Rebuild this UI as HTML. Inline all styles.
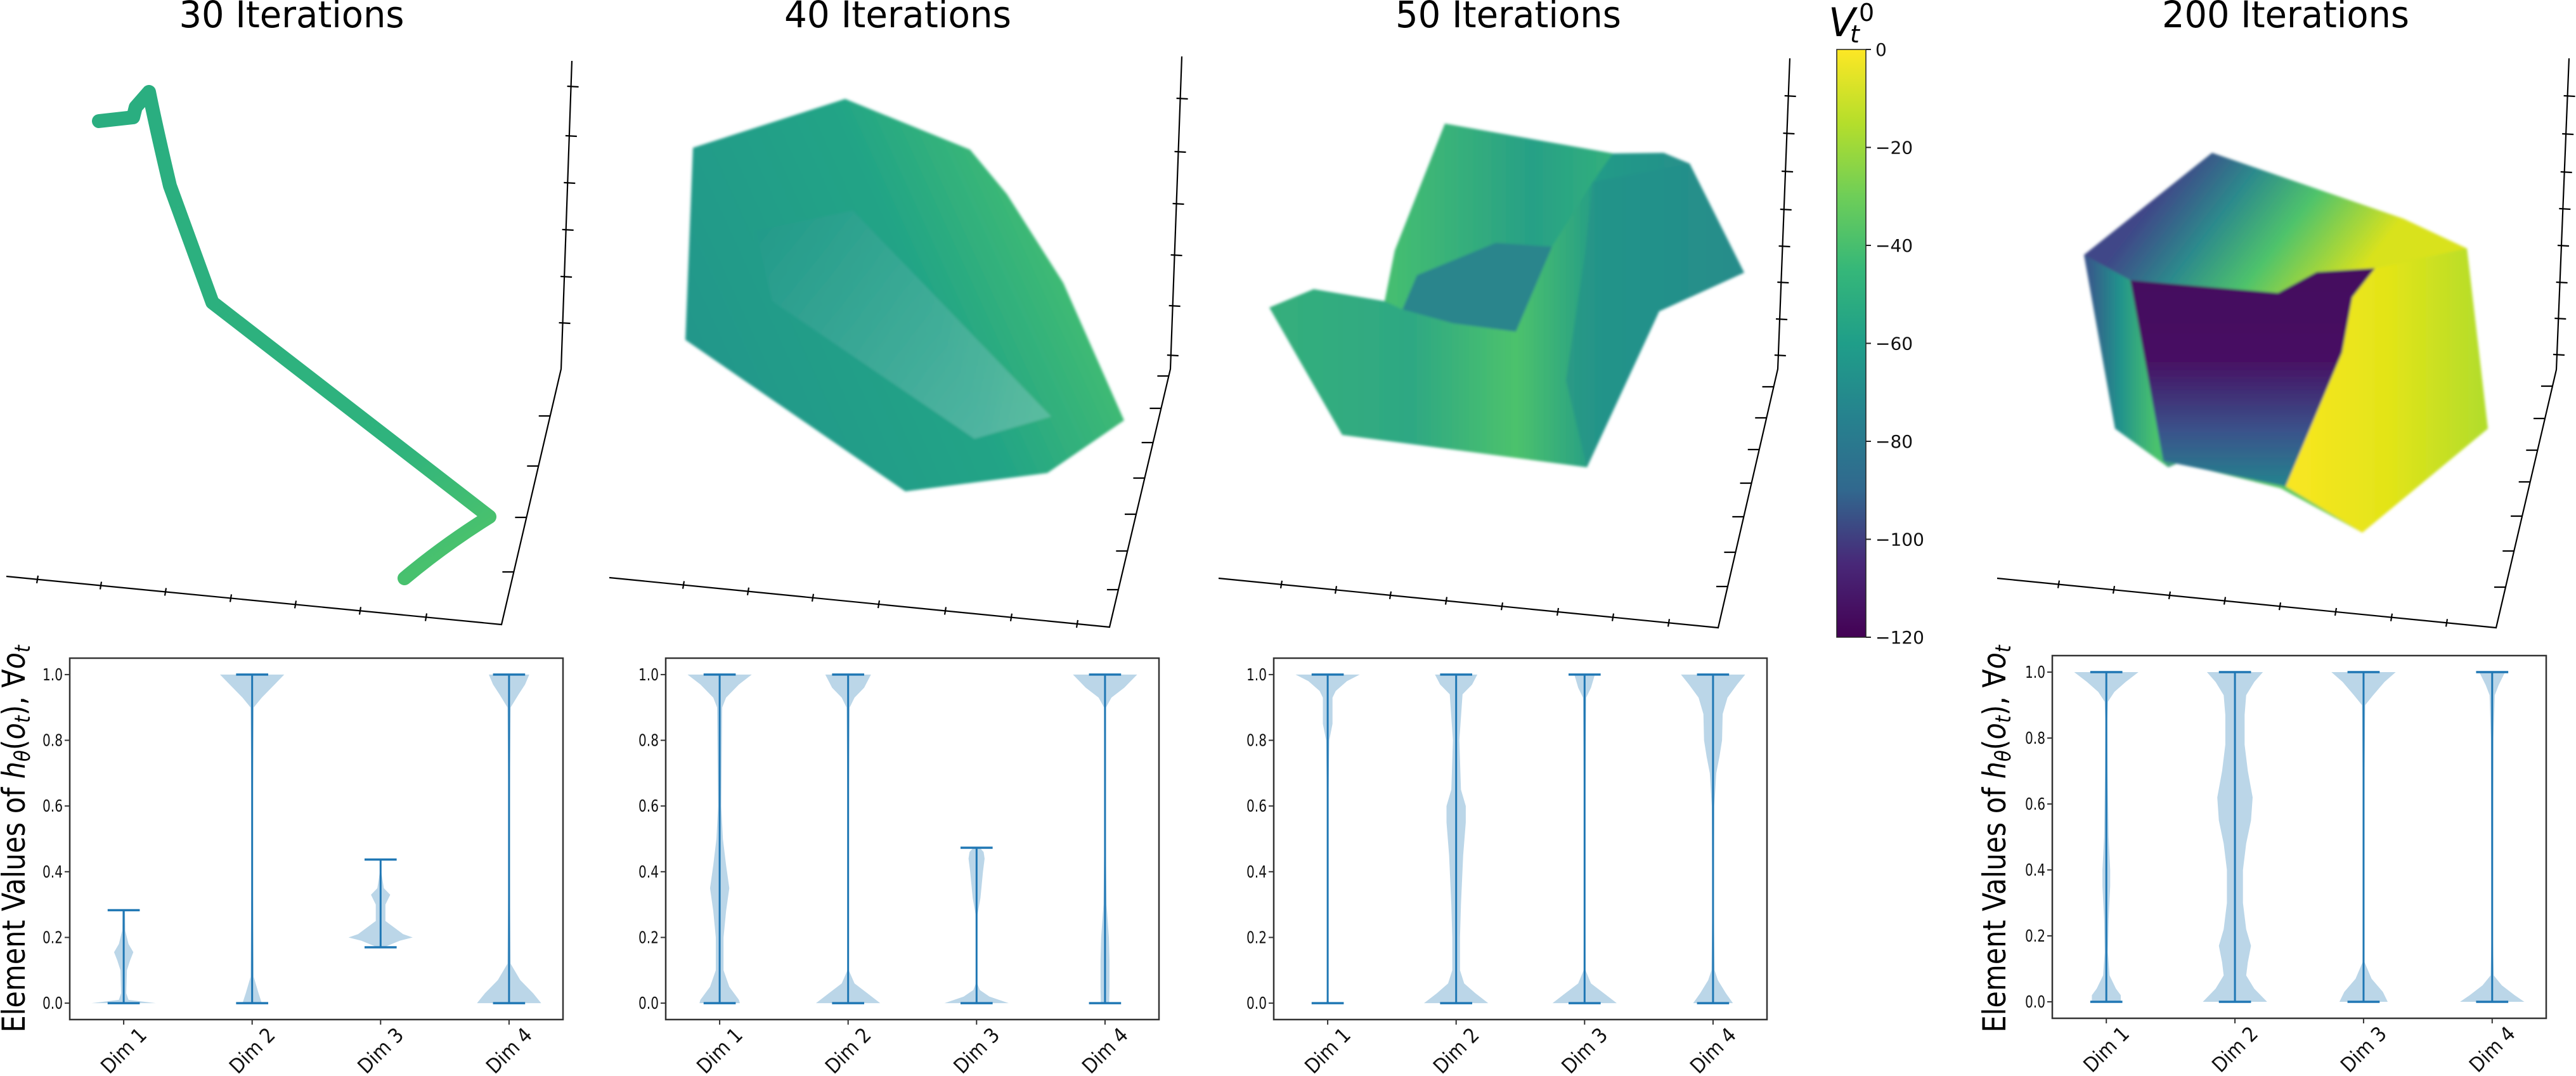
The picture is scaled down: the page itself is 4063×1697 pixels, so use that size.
<!DOCTYPE html>
<html><head><meta charset="utf-8"><style>
html,body{margin:0;padding:0;background:#fff;}
svg{display:block;}
text{font-family:"DejaVu Sans","Liberation Sans",sans-serif;}
</style></head><body>
<svg id="fig" width="4063" height="1697" viewBox="0 0 4063 1697" xmlns="http://www.w3.org/2000/svg">
<defs>
  <filter id="soft" x="-5%" y="-5%" width="110%" height="110%"><feGaussianBlur stdDeviation="2"/></filter>
  <linearGradient id="cbGrad" x1="0" y1="0" x2="0" y2="1">
    <stop offset="0" stop-color="#fde725"/><stop offset="0.125" stop-color="#b5de2b"/>
    <stop offset="0.25" stop-color="#6ece58"/><stop offset="0.375" stop-color="#35b779"/>
    <stop offset="0.5" stop-color="#1f9e89"/><stop offset="0.625" stop-color="#26828e"/>
    <stop offset="0.75" stop-color="#31688e"/><stop offset="0.875" stop-color="#482878"/>
    <stop offset="1" stop-color="#440154"/>
  </linearGradient>
  <linearGradient id="trajGrad" gradientUnits="userSpaceOnUse" x1="156" y1="191" x2="638" y2="912">
    <stop offset="0" stop-color="#2aae80"/><stop offset="0.8" stop-color="#2fb37d"/><stop offset="1" stop-color="#48c16e"/>
  </linearGradient>
  <linearGradient id="p2Grad" gradientUnits="userSpaceOnUse" x1="1090" y1="600" x2="1680" y2="330">
    <stop offset="0" stop-color="#20968b"/><stop offset="0.6" stop-color="#22a486"/><stop offset="1" stop-color="#45bf70"/>
  </linearGradient>
  <linearGradient id="p2Inner" gradientUnits="userSpaceOnUse" x1="1200" y1="360" x2="1600" y2="690">
    <stop offset="0" stop-color="#25998b"/><stop offset="1" stop-color="#7cc6ba"/>
  </linearGradient>
  <linearGradient id="p3Grad" gradientUnits="userSpaceOnUse" x1="2002" y1="0" x2="2751" y2="0">
    <stop offset="0" stop-color="#35af7c"/><stop offset="0.3" stop-color="#2ea883"/>
    <stop offset="0.52" stop-color="#4cc26c"/><stop offset="0.7" stop-color="#229a88"/>
    <stop offset="1" stop-color="#28898c"/>
  </linearGradient>
  <linearGradient id="p3Top" gradientUnits="userSpaceOnUse" x1="2200" y1="300" x2="2560" y2="300">
    <stop offset="0" stop-color="#44bd71"/><stop offset="0.6" stop-color="#27a086"/><stop offset="1" stop-color="#33b17b"/>
  </linearGradient>
  <linearGradient id="p4Outer" gradientUnits="userSpaceOnUse" x1="3290" y1="0" x2="3920" y2="0">
    <stop offset="0" stop-color="#2c7f8e"/><stop offset="0.5" stop-color="#5ac864"/><stop offset="1" stop-color="#b5de2b"/>
  </linearGradient>
  <linearGradient id="p4Top" gradientUnits="userSpaceOnUse" x1="3440" y1="260" x2="3700" y2="460">
    <stop offset="0" stop-color="#3f4788"/><stop offset="0.3" stop-color="#2c8a8c"/><stop offset="0.6" stop-color="#4fc36b"/><stop offset="1" stop-color="#d9e21d"/>
  </linearGradient>
  <linearGradient id="p4Left" gradientUnits="userSpaceOnUse" x1="3287" y1="0" x2="3400" y2="0">
    <stop offset="0" stop-color="#3b518b"/><stop offset="0.5" stop-color="#21928c"/><stop offset="1" stop-color="#4ac26d"/>
  </linearGradient>
  <linearGradient id="p4Hole" gradientUnits="userSpaceOnUse" x1="0" y1="440" x2="0" y2="760">
    <stop offset="0" stop-color="#440f5f"/><stop offset="0.4" stop-color="#471063"/><stop offset="0.75" stop-color="#3a538b"/><stop offset="1" stop-color="#26808e"/>
  </linearGradient>
  <linearGradient id="p4Yellow" gradientUnits="userSpaceOnUse" x1="3620" y1="0" x2="3920" y2="0">
    <stop offset="0" stop-color="#f8e621"/><stop offset="0.5" stop-color="#e2e418"/><stop offset="1" stop-color="#b2dd2c"/>
  </linearGradient>
</defs>

<text x="460" y="43" font-size="58" text-anchor="middle" textLength="355" lengthAdjust="spacingAndGlyphs">30 Iterations</text>
<text x="1416" y="43" font-size="58" text-anchor="middle" textLength="358" lengthAdjust="spacingAndGlyphs">40 Iterations</text>
<text x="2379" y="43" font-size="58" text-anchor="middle" textLength="356" lengthAdjust="spacingAndGlyphs">50 Iterations</text>
<text x="3605" y="43" font-size="58" text-anchor="middle" textLength="390" lengthAdjust="spacingAndGlyphs">200 Iterations</text>

<g>
  <path d="M156,191 L210,185 L214,169 L235,145 Q246,200 268,293 L335,477 L772,815 Q700,860 638,912" fill="none" stroke="url(#trajGrad)" stroke-width="22" stroke-linejoin="round" stroke-linecap="round"/>
</g>
<g filter="url(#soft)">
  <polygon points="1093,233 1333,156 1530,236 1588,306 1677,446 1773,663 1652,746 1428,775 1081,536" fill="url(#p2Grad)"/>
  <polygon points="1192,364 1218,475 1537,692 1658,657 1345,332" fill="url(#p2Inner)" opacity="0.55"/>
</g>
<g filter="url(#soft)">
  <polygon points="2002,485 2072,456 2184,475 2200,395 2279,195 2544,242 2624,241 2665,258 2751,430 2617,491 2503,737 2117,686" fill="url(#p3Grad)"/>
  <polygon points="2200,395 2279,195 2544,242 2512,287 2448,389 2359,383 2235,434 2212,488 2184,475" fill="url(#p3Top)"/>
  <polygon points="2212,488 2235,434 2359,383 2448,389 2391,523 2292,510" fill="#2a858c"/>
  <polygon points="2512,287 2665,258 2751,430 2617,491 2503,737 2470,600 2500,400" fill="#248f8b" opacity="0.6"/>
</g>
<g filter="url(#soft)">
  <polygon points="3287,402 3489,241 3791,345 3891,392 3924,676 3726,840 3597,770 3436,730 3420,737 3336,676" fill="url(#p4Outer)"/>
  <polygon points="3287,402 3489,241 3791,345 3891,392 3746,423 3654,429 3593,462 3360,442" fill="url(#p4Top)"/>
  <polygon points="3287,402 3360,442 3412,727 3420,737 3336,676" fill="url(#p4Left)"/>
  <polygon points="3605,767 3694,556 3710,469 3746,423 3891,392 3924,676 3726,840" fill="url(#p4Yellow)"/>
  <polygon points="3360,442 3593,462 3654,429 3746,423 3710,469 3694,556 3605,767 3412,727" fill="url(#p4Hole)"/>
</g>

<g id="axes3d"></g>

<g>
  <rect x="2897" y="78" width="46" height="927" fill="url(#cbGrad)" stroke="#222" stroke-width="1.5"/>
  <g id="cbTicks"></g>
  <text font-family="Liberation Serif, serif"><tspan x="2884" y="57" font-size="62" font-style="italic">V</tspan><tspan x="2918" y="67" font-size="38" font-style="italic">t</tspan><tspan x="2932" y="33" font-size="38">0</tspan></text>
</g>

<g id="violins"></g>
</svg>
<script>
const NS = "http://www.w3.org/2000/svg";
const dims = ["Dim 1", "Dim 2", "Dim 3", "Dim 4"];
const yTicks = [0, 0.2, 0.4, 0.6, 0.8, 1.0];
const cbTicks = [0, -20, -40, -60, -80, -100, -120];
const violins30 = [
  [0, 0.283, [[0,1.0],[0.01,0.15],[0.03,0.08],[0.1,0.1],[0.13,0.2],[0.155,0.3],[0.18,0.15],[0.22,0.05],[0.283,0.04]]],
  [0, 1.0, [[0,0.3],[0.03,0.2],[0.08,0.05],[0.5,0.01],[0.9,0.05],[0.93,0.3],[0.97,0.7],[1.0,1.0]]],
  [0.17, 0.437, [[0.17,0.1],[0.19,0.6],[0.2,1.0],[0.21,0.7],[0.25,0.15],[0.3,0.15],[0.33,0.3],[0.35,0.1],[0.4,0.02],[0.437,0.0]]],
  [0, 1.0, [[0,1.0],[0.03,0.75],[0.07,0.35],[0.12,0.05],[0.5,0.01],[0.9,0.05],[0.94,0.3],[0.97,0.5],[1.0,0.63]]]
];
const violins40 = [
  [0, 1.0, [[0,0.63],[0.01,0.6],[0.05,0.3],[0.1,0.12],[0.2,0.12],[0.28,0.2],[0.35,0.3],[0.42,0.2],[0.5,0.1],[0.6,0.05],[0.9,0.08],[0.93,0.2],[0.97,0.6],[1.0,1.0]]],
  [0, 1.0, [[0,1.0],[0.03,0.6],[0.06,0.2],[0.1,0.02],[0.5,0.01],[0.9,0.05],[0.93,0.2],[0.96,0.5],[1.0,0.71]]],
  [0, 0.473, [[0,1.0],[0.02,0.4],[0.04,0.1],[0.06,0.02],[0.27,0.03],[0.32,0.12],[0.4,0.2],[0.44,0.25],[0.46,0.22],[0.473,0.1]]],
  [0, 1.0, [[0,0.13],[0.05,0.14],[0.13,0.14],[0.2,0.12],[0.3,0.05],[0.5,0.02],[0.9,0.03],[0.93,0.2],[0.96,0.6],[1.0,1.0]]]
];
const violins50 = [
  [0, 1.0, [[0,0.05],[0.01,0.02],[0.1,0.01],[0.6,0.02],[0.8,0.05],[0.85,0.15],[0.93,0.15],[0.95,0.25],[0.98,0.6],[1.0,1.0]]],
  [0, 1.0, [[0,1.0],[0.03,0.6],[0.06,0.25],[0.1,0.12],[0.2,0.12],[0.3,0.15],[0.45,0.22],[0.55,0.3],[0.6,0.3],[0.65,0.15],[0.8,0.1],[0.94,0.2],[0.97,0.5],[1.0,0.66]]],
  [0, 1.0, [[0,1.0],[0.03,0.6],[0.06,0.2],[0.1,0.03],[0.5,0.01],[0.93,0.05],[0.96,0.2],[1.0,0.32]]],
  [0, 1.0, [[0,0.62],[0.03,0.4],[0.07,0.15],[0.1,0.05],[0.3,0.02],[0.6,0.04],[0.7,0.1],[0.75,0.2],[0.8,0.28],[0.88,0.3],[0.93,0.45],[0.97,0.75],[1.0,1.0]]]
];
const violins200 = [
  [0, 1.0, [[0,0.45],[0.02,0.45],[0.04,0.3],[0.08,0.1],[0.15,0.05],[0.25,0.07],[0.35,0.12],[0.4,0.12],[0.5,0.07],[0.7,0.04],[0.85,0.03],[0.91,0.05],[0.94,0.25],[0.97,0.6],[1.0,1.0]]],
  [0, 1.0, [[0,1.0],[0.04,0.6],[0.08,0.35],[0.12,0.4],[0.17,0.5],[0.22,0.35],[0.3,0.25],[0.4,0.25],[0.48,0.35],[0.55,0.5],[0.62,0.55],[0.7,0.4],[0.78,0.3],[0.87,0.3],[0.93,0.35],[0.97,0.6],[1.0,0.87]]],
  [0, 1.0, [[0,0.75],[0.03,0.6],[0.07,0.25],[0.12,0.03],[0.5,0.01],[0.9,0.05],[0.93,0.3],[0.97,0.65],[1.0,1.0]]],
  [0, 1.0, [[0,1.0],[0.02,0.7],[0.05,0.3],[0.08,0.05],[0.2,0.02],[0.5,0.03],[0.8,0.04],[0.93,0.08],[0.96,0.2],[1.0,0.4]]]
];
const panelViolins = [violins30, violins40, violins50, violins200];
const panelNames = ["30", "40", "50", "200"];
const panelBoxes = [[110,1038,778,570],[1050,1038,778,570],[2009,1038,778,570],[3237,1034,779,572]];
const showYLabel = [true, false, false, true];

function mk(tag, attrs, parent){
  const e = document.createElementNS(NS, tag);
  for (const k in attrs) e.setAttribute(k, attrs[k]);
  parent.appendChild(e);
  return e;
}
const vroot = document.getElementById('violins');
panelViolins.forEach((data, pi) => {
  const [L, T, W, H] = panelBoxes[pi];
  const sx = x => L + (x - 0.58) / 3.84 * W;
  const sy = y => T + (1.05 - y) / 1.1 * H;
  const unit = W / 3.84;
  const g = mk('g', {}, vroot);
  
  
  data.forEach((v, i) => {
    const [mn, mx, prof] = v;
    const cx = sx(i + 1);
    const hw = 0.25 * unit;
    const right = prof.map(p => (cx + p[1] * hw).toFixed(1) + ',' + sy(p[0]).toFixed(1));
    const left = prof.slice().reverse().map(p => (cx - p[1] * hw).toFixed(1) + ',' + sy(p[0]).toFixed(1));
    const body = mk('polygon', {points: right.concat(left).join(' '), fill: '#1f77b4', 'fill-opacity': '0.3'}, g);
    
    
    const stem = mk('line', {x1: cx, x2: cx, y1: sy(mn), y2: sy(mx), stroke: '#1f77b4', 'stroke-width': 3}, g);
    
    
    [mn, mx].forEach((val, k) => {
      const cap = mk('line', {x1: cx - 0.125 * unit, x2: cx + 0.125 * unit, y1: sy(val), y2: sy(val), stroke: '#1f77b4', 'stroke-width': 3.5}, g);
      
      
    });
  });
  const frame = mk('rect', {x: L, y: T, width: W, height: H, fill: 'none', stroke: '#333', 'stroke-width': 2.5}, g);
  
  
  yTicks.forEach(t => {
    const tk = mk('line', {x1: L - 8, x2: L, y1: sy(t), y2: sy(t), stroke: '#333', 'stroke-width': 2}, g);
    
    
    const lb = mk('text', {x: L - 11, y: sy(t) + 9, 'font-size': 26, 'text-anchor': 'end', textLength: 32, lengthAdjust: 'spacingAndGlyphs', fill: '#111'}, g);
    lb.textContent = t.toFixed(1);
    
    
  });
  dims.forEach((d, i) => {
    const x = sx(i + 1);
    const tk = mk('line', {x1: x, x2: x, y1: T + H, y2: T + H + 8, stroke: '#333', 'stroke-width': 2}, g);
    
    
    const cy = T + H + 49;
    const lb = mk('text', {x: x, y: cy + 11, 'font-size': 32, 'text-anchor': 'middle', textLength: 86, lengthAdjust: 'spacingAndGlyphs', transform: `rotate(-45 ${x} ${cy})`, fill: '#111'}, g);
    lb.textContent = d;
    
    
  });
  if (showYLabel[pi]) {
    const cx = pi === 0 ? 22 : 3146, cy = 1323;
    const yl = mk('text', {x: cx, y: cy + 17, 'font-size': 50, 'text-anchor': 'middle', textLength: 611, lengthAdjust: 'spacingAndGlyphs', transform: `rotate(-90 ${cx} ${cy})`, fill: '#000'}, g);
    yl.innerHTML = 'Element Values of <tspan font-style="italic">h</tspan><tspan font-style="italic" font-size="34" dy="8">θ</tspan><tspan dy="-8">(</tspan><tspan font-style="italic">o</tspan><tspan font-style="italic" font-size="34" dy="8">t</tspan><tspan dy="-8">), ∀</tspan><tspan font-style="italic">o</tspan><tspan font-style="italic" font-size="34" dy="8">t</tspan>';
    
    
  }
});

const cbg = document.getElementById('cbTicks');
cbTicks.forEach(v => {
  const y = 78 + (0 - v) / 120 * 927;
  const tk = mk('line', {x1: 2943, x2: 2951, y1: y, y2: y, stroke: '#222', 'stroke-width': 2}, cbg);
  
  
  const lb = mk('text', {x: 2958, y: y + 10, 'font-size': 28, fill: '#111'}, cbg);
  lb.textContent = v === 0 ? '0' : '\u2212' + Math.abs(v);
  
  
});

const a3 = document.getElementById('axes3d');
const frames = [
  {bot: [[10,909],[791,985]], low: [[791,985],[885,582]], up: [[885,582],[902,96]],
   bt: [59,159,261,364,466,568,672], lt: [656,735,816,902], ut: [136,214,288,362,436,509]},
  {bot: [[961,911],[1750,989]], low: [[1750,989],[1846,582]], up: [[1846,582],[1864,89]],
   bt: [1078,1180,1282,1386,1491,1595,1699], lt: [593,644,698,754,811,869,930], ut: [155,239,321,402,482,560]},
  {bot: [[1922,912],[2710,990]], low: [[2710,990],[2804,582]], up: [[2804,582],[2823,92]],
   bt: [2021,2107,2193,2281,2369,2457,2544,2632], lt: [610,659,709,762,815,871,925], ut: [151,210,270,330,388,445,503,560]},
  {bot: [[3150,912],[3937,990]], low: [[3937,990],[4032,583]], up: [[4032,583],[4052,92]],
   bt: [3247,3334,3422,3509,3596,3684,3772,3859], lt: [609,660,710,760,814,869,926], ut: [151,211,271,329,387,445,502,559]}
];
function lerpX(seg, y){ const [[x1,y1],[x2,y2]] = seg; return x1 + (y - y1) / (y2 - y1) * (x2 - x1); }
function lerpY(seg, x){ const [[x1,y1],[x2,y2]] = seg; return y1 + (x - x1) / (x2 - x1) * (y2 - y1); }
frames.forEach((f, i) => {
  const g = mk('g', {stroke: '#000', 'stroke-width': 2.2, fill: 'none'}, a3);
  
  
  mk('polyline', {points: [f.bot[0], f.bot[1], f.up[0], f.up[1]].map(p => p.join(',')).join(' ')}, g);
  f.bt.forEach(x => { const y = lerpY(f.bot, x); mk('line', {x1: x + 1, y1: y - 6, x2: x - 1, y2: y + 6}, g); });
  f.lt.forEach(y => { const x = lerpX(f.low, y); mk('line', {x1: x - 18, y1: y, x2: x, y2: y}, g); });
  f.ut.forEach(y => { const x = lerpX(f.up, y); mk('line', {x1: x - 6, y1: y, x2: x + 12, y2: y + 1}, g); });
});
</script>
</body></html>
